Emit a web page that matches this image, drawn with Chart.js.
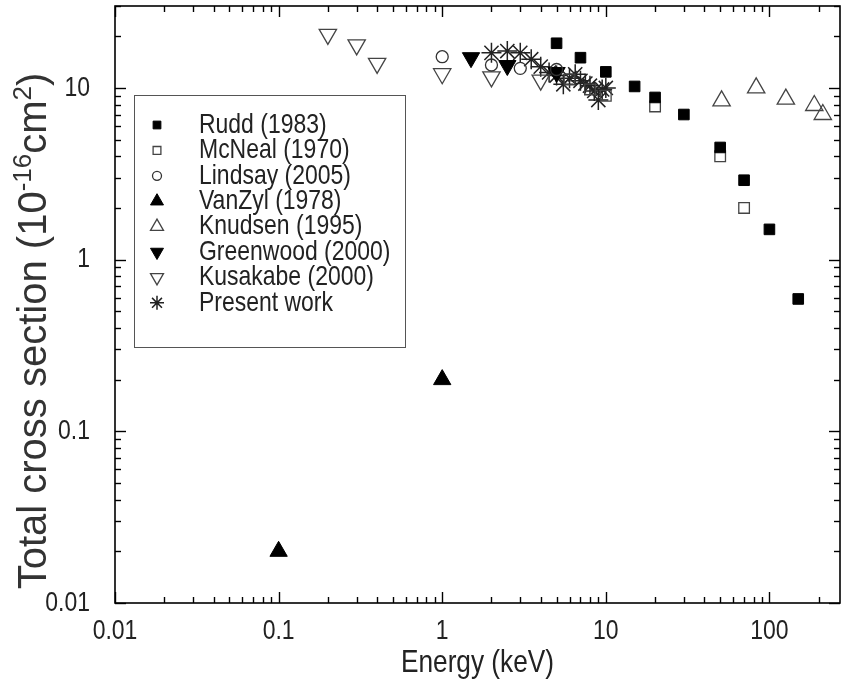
<!DOCTYPE html>
<html><head><meta charset="utf-8">
<script src="https://cdn.jsdelivr.net/npm/chart.js@4"></script>
<style>html,body{margin:0;padding:0;background:#fff;overflow:hidden}#wrap{width:842px;height:687px}</style>
</head><body><div id="wrap"><canvas id="c" width="842" height="687"></canvas></div>
<script>
// ---- tick definitions ----
const xTickValues = [0.01, 0.1, 1, 10, 100];
const xTickLabels = ['0.01', '0.1', '1', '10', '100'];
const yTickValues = [0.01, 0.1, 1, 10];
const yTickLabels = ['0.01', '0.1', '1', '10'];
const xTitle = 'Energy (keV)';

// ---- series data (Energy keV, cross section 1e-16 cm^2) ----
const ruddX = [5, 7, 10, 15, 20, 30, 50, 70, 100, 150];
const ruddY = [18.2, 15.0, 12.4, 10.2, 8.8, 7.0, 4.5, 2.9, 1.5, 0.59];
const mcnealX = [6, 8, 10, 20, 50, 70];
const mcnealY = [11.2, 9.8, 9.0, 7.8, 4.0, 2.0];
const lindsayX = [1, 2, 3, 5];
const lindsayY = [15.2, 13.6, 13.0, 12.8];
const vanzylX = [0.1, 1];
const vanzylY = [0.02, 0.2];
const knudsenX = [51, 83, 126, 188, 212];
const knudsenY = [8.4, 10.0, 8.6, 7.9, 7.0];
const greenwoodX = [1.5, 2.5, 5];
const greenwoodY = [15.0, 13.5, 12.3];
const kusakabeX = [0.2, 0.3, 0.4, 1, 2, 4];
const kusakabeY = [20.5, 17.8, 13.9, 12.1, 11.6, 11.1];
const presentX = [2.0, 2.5, 3.0, 3.5, 4.0, 4.5, 5.0, 5.5, 6.0, 6.5, 7.0, 7.5, 8.0, 8.5, 9.0, 9.5, 10];
const presentY = [16.0, 16.4, 16.0, 14.7, 13.3, 12.3, 11.8, 10.5, 11.4, 12.0, 11.0, 10.6, 10.3, 9.6, 8.5, 9.8, 10.0];
const seriesNames = ['Rudd (1983)', 'McNeal (1970)', 'Lindsay (2005)', 'VanZyl (1978)', 'Knudsen (1995)', 'Greenwood (2000)', 'Kusakabe (2000)', 'Present work'];

function pts(xs, ys) { return xs.map((x, i) => ({x: x, y: ys[i]})); }

const NARROW = (function(){
  const c = document.createElement('canvas').getContext('2d');
  c.font = "40px 'Liberation Sans'"; const w1 = c.measureText('Energy 0123').width;
  c.font = "40px 'Liberation Sans Narrow', 'Liberation Sans'"; const w2 = c.measureText('Energy 0123').width;
  return w2 < w1 * 0.9;
})();
function hText(ctx, text, x, y, size, align) {
  ctx.save();
  ctx.textAlign = align; ctx.textBaseline = 'middle'; ctx.fillStyle = '#222';
  if (NARROW) { ctx.font = size + "px 'Liberation Sans Narrow'"; ctx.fillText(text, x, y); }
  else { ctx.translate(x, y); ctx.scale(0.82, 1); ctx.font = size + "px 'Liberation Sans'"; ctx.fillText(text, 0, 0); }
  ctx.restore();
}

const OPEN = 'rgba(0,0,0,0)';
const datasets = [
  {data: pts(ruddX, ruddY), pointStyle: 'rect', pointRadius: 7.5, backgroundColor: '#000', borderColor: '#000', borderWidth: 1, lg: 5.5},
  {data: pts(mcnealX, mcnealY), pointStyle: 'rect', pointRadius: 7.5, backgroundColor: OPEN, borderColor: '#444', borderWidth: 1.3, lg: 5.5},
  {data: pts(lindsayX, lindsayY), pointStyle: 'circle', pointRadius: 6, backgroundColor: OPEN, borderColor: '#333', borderWidth: 1.3, lg: 4.5},
  {data: pts(vanzylX, vanzylY), pointStyle: 'triangle', pointRadius: 10, backgroundColor: '#000', borderColor: '#000', borderWidth: 1, lg: 7.5},
  {data: pts(knudsenX, knudsenY), pointStyle: 'triangle', pointRadius: 10, backgroundColor: OPEN, borderColor: '#444', borderWidth: 1.3, lg: 7.5},
  {data: pts(greenwoodX, greenwoodY), pointStyle: 'triangle', rotation: 180, pointRadius: 10, backgroundColor: '#000', borderColor: '#000', borderWidth: 1, lg: 7.5},
  {data: pts(kusakabeX, kusakabeY), pointStyle: 'triangle', rotation: 180, pointRadius: 10, backgroundColor: OPEN, borderColor: '#444', borderWidth: 1.3, lg: 7.5},
  {data: pts(presentX, presentY), pointStyle: 'star', pointRadius: 10, backgroundColor: OPEN, borderColor: '#222', borderWidth: 1.5, lg: 7}
].map((d, i) => Object.assign(d, {label: seriesNames[i], pointRotation: d.rotation || 0, showLine: false}));

const decor = {
  id: 'decor',
  afterDraw(chart) {
    const ctx = chart.ctx, a = chart.chartArea, xs = chart.scales.x, ys = chart.scales.y;
    ctx.save();
    ctx.strokeStyle = '#000'; ctx.lineWidth = 1.6;
    ctx.strokeRect(a.left, a.top, a.right - a.left, a.bottom - a.top);
    function line(x1, y1, x2, y2) { ctx.beginPath(); ctx.moveTo(x1, y1); ctx.lineTo(x2, y2); ctx.stroke(); }
    ctx.lineWidth = 1.4;
    xTickValues.forEach(d => { for (let m = 1; m <= 9; m++) { const v = d * m; if (v < xs.min - 1e-12 || v > xs.max) continue;
      const p = Math.round(xs.getPixelForValue(v)) + 0.5; const L = m === 1 ? 11 : 6;
      line(p, a.bottom, p, a.bottom - L); line(p, a.top, p, a.top + L); } });
    yTickValues.forEach(d => { for (let m = 1; m <= 9; m++) { const v = d * m; if (v < ys.min - 1e-12 || v > ys.max) continue;
      const p = Math.round(ys.getPixelForValue(v)) + 0.5; const L = m === 1 ? 11 : 6;
      line(a.left, p, a.left + L, p); line(a.right, p, a.right - L, p); } });
    xTickValues.forEach((v, i) => hText(ctx, xTickLabels[i], xs.getPixelForValue(v), a.bottom + 28, 28, 'center'));
    yTickValues.forEach((v, i) => hText(ctx, yTickLabels[i], a.left - 25, ys.getPixelForValue(v), 28, 'right'));
    hText(ctx, xTitle, (a.left + a.right) / 2, 663, 32, 'center');
    const parts = [['Total cross section (10', 40, 0], ['-16', 26, -15], ['cm', 40, 0], ['2', 26, -15], [')', 40, 0]];
    ctx.save();
    ctx.fillStyle = '#333'; ctx.textBaseline = 'alphabetic'; ctx.textAlign = 'left';
    let tot = 0; parts.forEach(p => { ctx.font = p[1] + "px 'Liberation Sans'"; tot += ctx.measureText(p[0]).width; });
    ctx.translate(46, 331); ctx.rotate(-Math.PI / 2);
    let x0 = -tot / 2;
    parts.forEach(p => { ctx.font = p[1] + "px 'Liberation Sans'"; ctx.fillText(p[0], x0, p[2]); x0 += ctx.measureText(p[0]).width; });
    ctx.restore();
    ctx.strokeStyle = '#555'; ctx.lineWidth = 1;
    ctx.strokeRect(134.5, 95.5, 271, 252);
    chart.data.datasets.forEach((ds, i) => {
      const y = 125 + i * 25.4;
      ctx.save();
      ctx.fillStyle = ds.backgroundColor; ctx.strokeStyle = ds.borderColor; ctx.lineWidth = ds.borderWidth;
      Chart.helpers.drawPoint(ctx, {pointStyle: ds.pointStyle, rotation: ds.pointRotation, radius: ds.lg, borderWidth: ds.borderWidth}, 157, y);
      ctx.restore();
      hText(ctx, ds.label, 199, y, 28, 'left');
    });
    ctx.restore();
  }
};

new Chart(document.getElementById('c'), {
  type: 'scatter',
  data: {datasets: datasets},
  options: {
    responsive: false, animation: false, devicePixelRatio: 1,
    layout: {autoPadding: false, padding: {top: 6, right: 2, left: 0, bottom: 0}},
    plugins: {legend: {display: false}, tooltip: {enabled: false}},
    scales: {
      x: {type: 'logarithmic', min: 0.01, max: 270,
          grid: {display: false, drawTicks: false}, border: {display: false}, ticks: {display: false},
          afterBuildTicks: s => { s.ticks = xTickValues.map(v => ({value: v})); },
          afterFit: s => { s.height = 84; }},
      y: {type: 'logarithmic', min: 0.01, max: 30,
          grid: {display: false, drawTicks: false}, border: {display: false}, ticks: {display: false},
          afterBuildTicks: s => { s.ticks = yTickValues.map(v => ({value: v})); },
          afterFit: s => { s.width = 115; }}
    }
  },
  plugins: [decor]
});
</script></body></html>
